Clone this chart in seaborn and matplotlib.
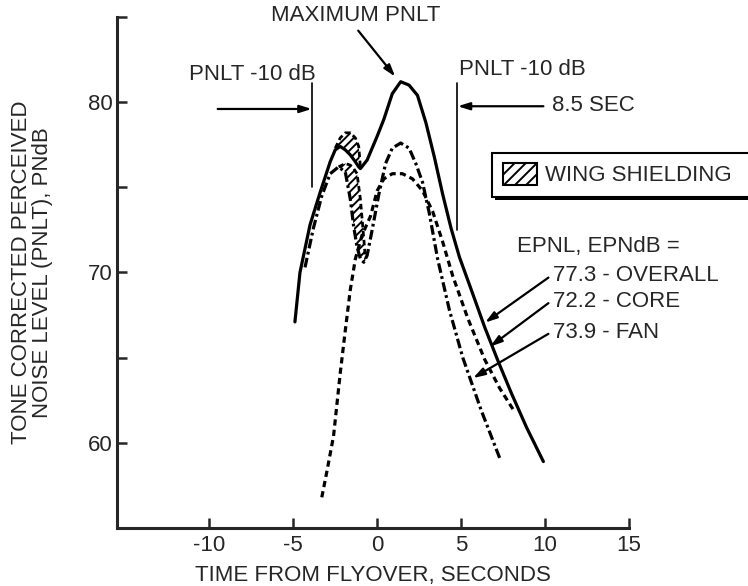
import matplotlib
matplotlib.use("Agg")
import matplotlib.pyplot as plt
import seaborn as sns
from matplotlib.patches import Rectangle

# curves (time in s, PNLT in PNdB)
t_overall = [-4.9, -4.6, -4.0, -3.4, -2.8, -2.5, -2.2, -1.9, -1.6, -1.3, -1.1, -1.0, -0.6, 0.0,
             0.4, 0.9, 1.4, 1.9, 2.4, 2.9, 3.4, 3.9, 4.4, 4.9, 5.6, 6.4, 7.2, 8.0, 8.9, 9.9]
pnlt_overall = [67.1, 70.0, 72.8, 74.7, 76.5, 77.2, 77.4, 77.2, 76.9, 76.5, 76.2, 76.1, 76.6, 78.0,
                79.0, 80.5, 81.2, 81.0, 80.4, 78.8, 76.8, 74.6, 72.6, 70.9, 69.0, 66.8, 64.8, 62.9, 60.9, 58.9]

t_core = [-3.3, -3.0, -2.6, -2.2, -1.9, -1.6, -1.3, -0.9, -0.4, 0.0, 0.4, 0.9, 1.5, 2.1, 2.7,
          3.3, 3.9, 4.5, 5.4, 6.4, 7.3, 8.2]
pnlt_core = [56.8, 58.3, 60.4, 64.1, 66.6, 69.0, 70.8, 72.2, 73.3, 74.8, 75.5, 75.8, 75.8, 75.5, 74.8,
             73.6, 71.8, 69.8, 67.3, 64.9, 63.2, 61.8]

t_fan = [-4.3, -3.8, -3.3, -2.8, -2.3, -1.9, -1.6, -1.4, -1.2, -1.0, -0.8, -0.6, -0.3, 0.1, 0.5,
         0.9, 1.4, 1.9, 2.3, 2.7, 3.1, 3.6, 4.3, 5.1, 6.2, 7.3]
pnlt_fan = [70.3, 72.6, 74.5, 75.8, 76.2, 75.9, 74.3, 72.7, 71.5, 70.8, 70.6, 71.0, 72.5, 74.6, 76.4,
            77.3, 77.6, 77.3, 76.4, 75.3, 73.5, 70.8, 67.8, 65.0, 61.9, 59.1]

# wing shielding bands (unshielded level above the shielded one)
t_shield_overall = [-2.5, -2.2, -1.9, -1.6, -1.3, -1.1, -1.0]
unshielded_overall = [77.3, 77.9, 78.2, 78.2, 77.9, 77.4, 76.2]
shielded_overall = [77.2, 77.4, 77.2, 76.9, 76.5, 76.2, 76.1]

t_shield_fan = [-2.3, -1.9, -1.6, -1.4, -1.2, -1.0, -0.8, -0.7]
unshielded_fan = [76.2, 76.4, 76.3, 76.1, 75.8, 74.3, 72.0, 70.8]
shielded_fan = [76.2, 75.9, 74.3, 72.7, 71.5, 70.8, 70.6, 70.7]

epnl_labels = ["77.3 - OVERALL", "72.2 - CORE", "73.9 - FAN"]
epnl_text_y = [69.8, 68.3, 66.5]
epnl_arrow_tip = [(6.43, 67.06), (6.73, 65.65), (5.71, 63.8)]

sns.set_style("ticks")
plt.rcParams['font.family'] = ['Liberation Sans', 'DejaVu Sans']
plt.rcParams['lines.scale_dashes'] = False
plt.rcParams['hatch.linewidth'] = 1.4
plt.rcParams['axes.unicode_minus'] = False

fig = plt.figure(figsize=(7.48, 5.86), dpi=100)
ax = fig.add_axes([0.1564, 0.099, 0.6845, 0.872])

sns.lineplot(x=t_overall, y=pnlt_overall, sort=False, color='black', lw=2.3, ax=ax)
sns.lineplot(x=t_core, y=pnlt_core, sort=False, color='black', lw=2.3,
             linestyle=(0, (4.5, 3)), ax=ax)
sns.lineplot(x=t_fan, y=pnlt_fan, sort=False, color='black', lw=2.3,
             linestyle=(0, (7, 2.5, 2, 2.5)), ax=ax)

for tx, lo, hi in [(t_shield_overall, shielded_overall, unshielded_overall),
                   (t_shield_fan, shielded_fan, unshielded_fan)]:
    ax.fill_between(tx, lo, hi, facecolor='white', edgecolor='black', hatch='////', linewidth=0)
    ax.plot(tx, hi, color='black', lw=2, linestyle=(0, (4, 2.5)))

ax.set_xlim(-15.5, 15)
ax.set_ylim(55, 85)
ax.set_xticks([-10, -5, 0, 5, 10, 15])
ax.set_yticks([60, 70, 80])
ax.set_yticks([65, 75, 85], minor=True)
ax.tick_params(which='both', direction='in', length=7, width=1.8, labelsize=16)
ax.tick_params(axis='y', pad=3)
ax.tick_params(axis='x', pad=5)
for s in ['top', 'right']:
    ax.spines[s].set_visible(False)
for s in ['left', 'bottom']:
    ax.spines[s].set_linewidth(2.2)

ax.set_xlabel("TIME FROM FLYOVER, SECONDS", fontsize=16)
ax.set_ylabel("TONE CORRECTED PERCEIVED\nNOISE LEVEL (PNLT), PNdB", fontsize=16, linespacing=1.0)
ax.xaxis.set_label_coords(0.5, -0.072)
ax.yaxis.set_label_coords(-0.125, 0.5)

arrow = dict(arrowstyle='-|>,head_length=0.7,head_width=0.22', color='black', lw=1.6,
             shrinkA=0, shrinkB=0)

ax.text(-1.3, 85.1, "MAXIMUM PNLT", fontsize=16, ha='center', va='center')
ax.annotate('', xy=(1.07, 81.5), xytext=(-1.13, 84.2), arrowprops=arrow, annotation_clip=False)

# PNLT -10 dB markers
ax.text(-7.44, 81.6, "PNLT -10 dB", fontsize=16, ha='center', va='center')
ax.plot([-3.87, -3.87], [81.1, 75.0], color='black', lw=1.2)
ax.annotate('', xy=(-3.9, 79.6), xytext=(-9.5, 79.6), arrowprops=arrow)
ax.text(8.63, 81.9, "PNLT -10 dB", fontsize=16, ha='center', va='center')
ax.plot([4.76, 4.76], [81.1, 72.5], color='black', lw=1.2)
ax.annotate('', xy=(4.8, 79.76), xytext=(9.9, 79.76), arrowprops=arrow)
ax.text(10.4, 79.8, "8.5 SEC", fontsize=16, ha='left', va='center')

# EPNL labels
ax.text(8.33, 71.5, "EPNL, EPNdB =", fontsize=16, ha='left', va='center')
for lab, ty, tip in zip(epnl_labels, epnl_text_y, epnl_arrow_tip):
    ax.text(10.48, ty, lab, fontsize=16, ha='left', va='center')
    ax.annotate('', xy=tip, xytext=(10.2, ty - 0.1), arrowprops=arrow, annotation_clip=False)

# wing shielding key box with drop shadow
fig.patches.append(Rectangle((0.662, 0.658), 0.36, 0.078, transform=fig.transFigure,
                             facecolor='black', edgecolor='none'))
fig.patches.append(Rectangle((0.658, 0.664), 0.36, 0.075, transform=fig.transFigure,
                             facecolor='white', edgecolor='black', lw=1.5))
fig.patches.append(Rectangle((0.672, 0.684), 0.0455, 0.0375, transform=fig.transFigure,
                             facecolor='white', edgecolor='black', hatch='///', lw=1.5))
fig.text(0.729, 0.701, "WING SHIELDING", fontsize=16, ha='left', va='center')

fig.savefig("out.png", dpi=100)
